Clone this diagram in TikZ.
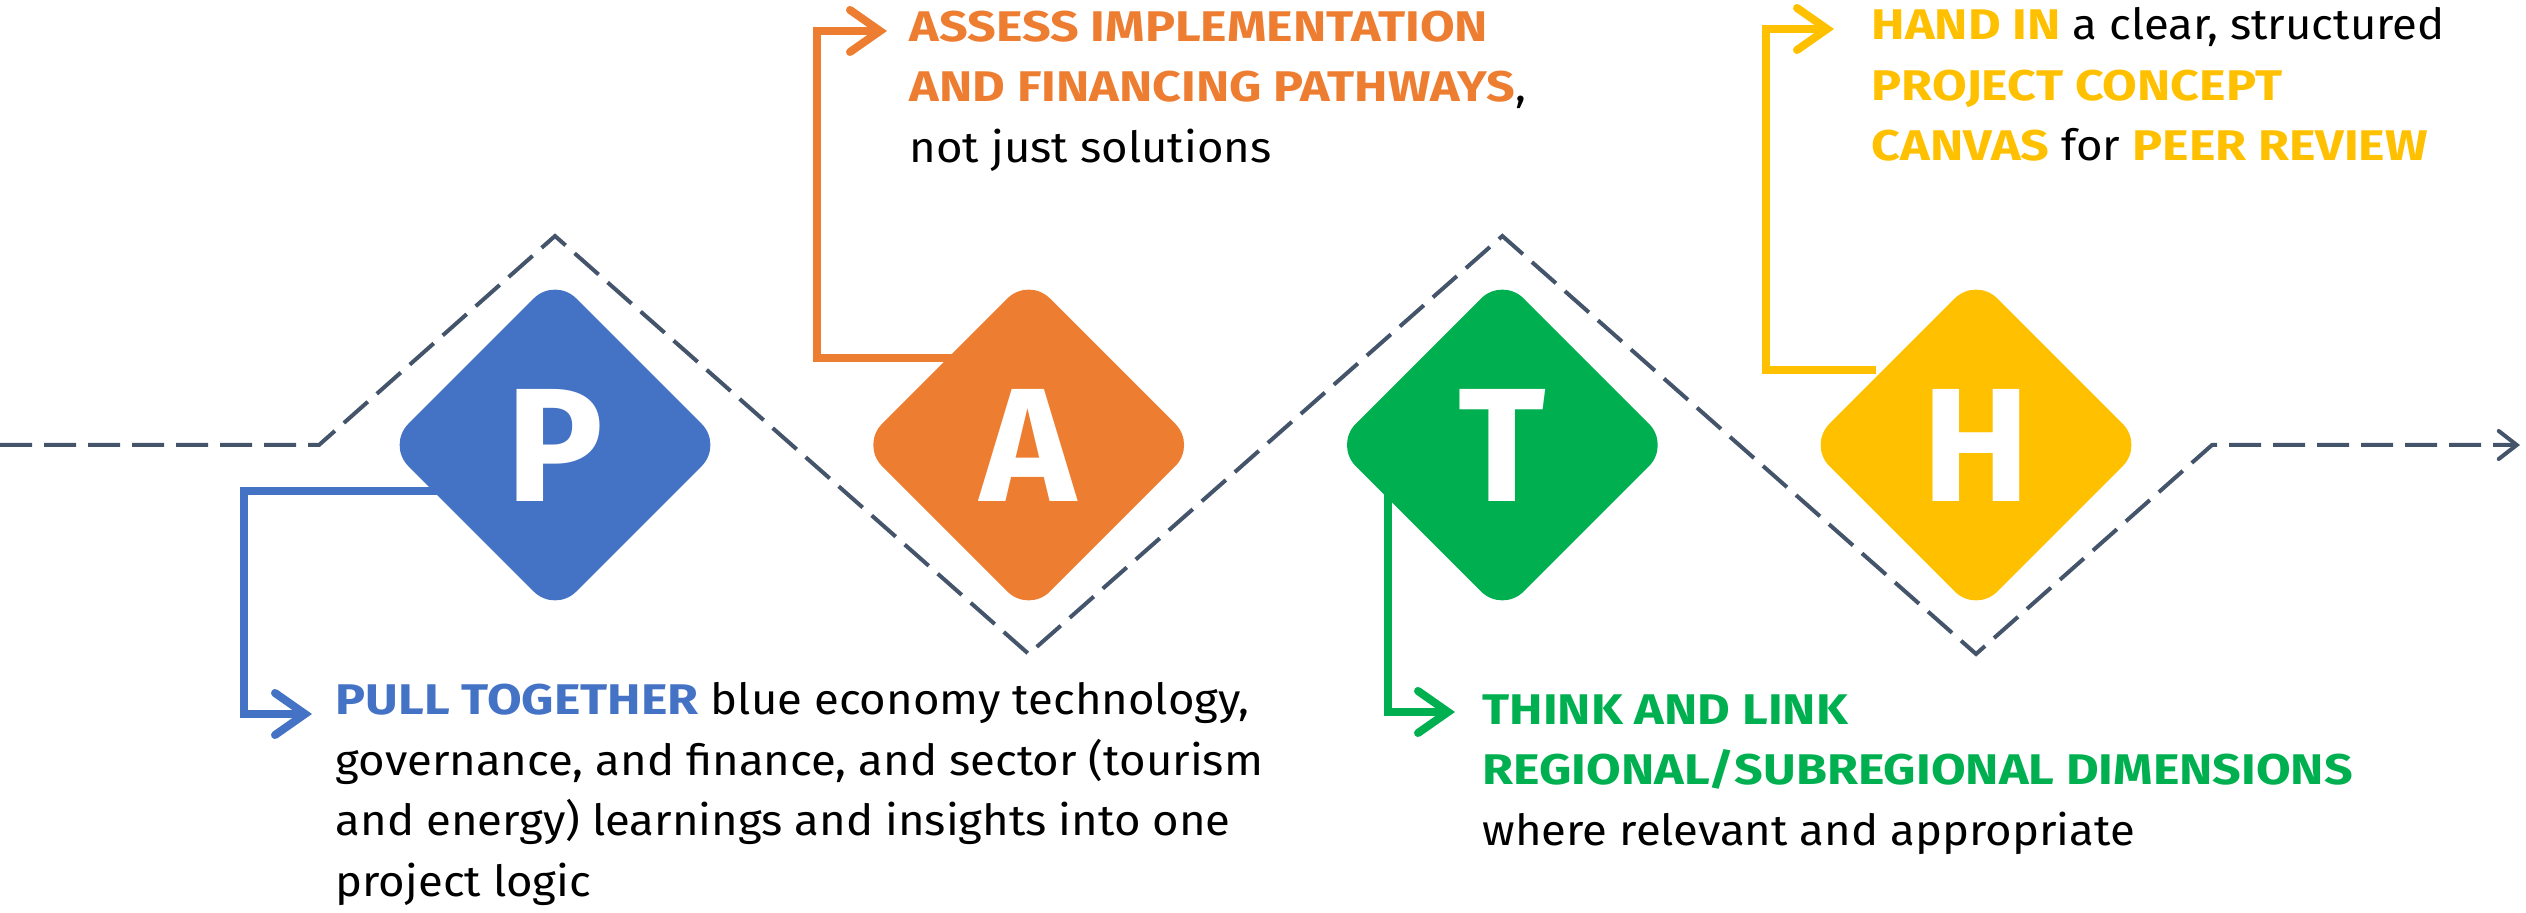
\documentclass[tikz,border=0pt]{standalone}
\usepackage{fontspec}
\setmainfont{Fira Sans}[FakeStretch=1.06, BoldFeatures={FakeStretch=1.17}]
\newfontfamily\letterfont{Fira Sans}
\usepackage{xcolor}
\usetikzlibrary{positioning}
\usetikzlibrary{arrows.meta}
\usetikzlibrary{shapes.geometric}
\usetikzlibrary{calc}
\usetikzlibrary{backgrounds}
\definecolor{pblue}{HTML}{4472C4}
\definecolor{aorange}{HTML}{ED7D31}
\definecolor{tgreen}{HTML}{00B050}
\definecolor{hyellow}{HTML}{FFC000}
\definecolor{slate}{HTML}{44546A}
\newcommand{\kw}[2]{\textcolor{#1}{\bfseries #2}}
\tikzset {
  x=0.01cm, y=-0.01cm,
  % rounded letter diamonds
  letter/.style = {fill=#1, shape=diamond, aspect=1, rounded corners=0.3cm, minimum width=3.36cm, minimum height=3.36cm, inner sep=0pt, text=white, font=\letterfont\bfseries\fontsize{46}{46}\selectfont},
  % dashed path through the letters
  track/.style = {slate, line width=0.04cm, dash pattern=on 0.32cm off 0.12cm, -{Straight Barb[length=0.18cm, width=0.28cm, line cap=round]}},
  % elbow arrows to the texts
  conn/.style = {#1, line width=0.08cm, -{Straight Barb[length=0.3cm, width=0.42cm, line cap=round]}},
  % text blocks, placed by their top strut
  note/.style = {anchor=north west, align=left, inner sep=0pt, font=\fontsize{12.2}{17.2}\selectfont, execute at begin node=\strut},
}

\begin{document}
\begin{tikzpicture}
  \useasboundingbox (0,0) rectangle (2526,913);
  \node[letter=pblue] (P) at (555,445) {P};
  \node[letter=aorange] (A) [right=1.36cm of P] {A};
  \node[letter=tgreen] (T) [right=1.36cm of A] {T};
  \node[letter=hyellow] (H) [right=1.36cm of T] {H};

  \coordinate (start) at (0,445);
  \coordinate (finish) at (2520,445);
  \draw[track] (start) -- ($(P)+(-236,0)$) -- ($(P)+(0,-209)$) -- ($(A)+(0,209)$) -- ($(T)+(0,-209)$) -- ($(H)+(0,209)$) -- ($(H)+(236,0)$) -- (finish);

  \coordinate (ptip) at (312,714);
  \coordinate (atip) at (887,31);
  \coordinate (ttip) at (1455,712);
  \coordinate (htip) at (1834,29);
  \begin{scope}[on background layer]
    \draw[conn=pblue] ($(P)+(-100,46)$) -| ($(ptip)+(-68,0)$) -- (ptip);
    \draw[conn=aorange] ($(A)+(-60,-87)$) -| ($(atip)+(-70,0)$) -- (atip);
    \draw[conn=tgreen] ($(T)+(-114,0)$) |- (ttip);
    \draw[conn=hyellow] ($(H)+(-100,-75)$) -| ($(htip)+(-68,0)$) -- (htip);
  \end{scope}

  \node[note] (ptext) at ($(ptip)+(23,-32)$) {\kw{pblue}{PULL TOGETHER} blue economy technology,\\governance, and finance, and sector (tourism\\and energy) learnings and insights into one\\project logic};
  \node[note] (atext) at ($(atip)+(22,-21)$) {\kw{aorange}{ASSESS IMPLEMENTATION}\\\kw{aorange}{AND FINANCING PATHWAYS},\\not just solutions};
  \node[note] (ttext) at ($(ttip)+(27,-18)$) {\kw{tgreen}{THINK AND LINK}\\\kw{tgreen}{REGIONAL/SUBREGIONAL DIMENSIONS}\\where relevant and appropriate};
  \node[note] (htext) at ($(htip)+(37,-22)$) {\kw{hyellow}{HAND IN} a clear, structured\\\kw{hyellow}{PROJECT CONCEPT}\\\kw{hyellow}{CANVAS} for \kw{hyellow}{PEER REVIEW}};
\end{tikzpicture}
\end{document}
